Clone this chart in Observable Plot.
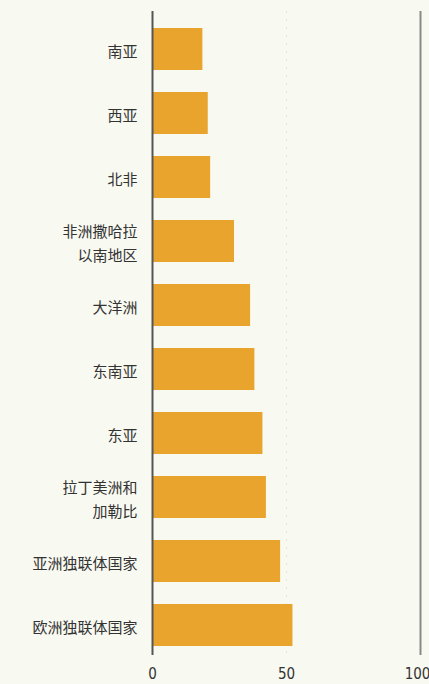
<!DOCTYPE html>
<html>
<head>
<meta charset="utf-8">
<script src="https://cdn.jsdelivr.net/npm/d3@7"></script>
<script src="https://cdn.jsdelivr.net/npm/@observablehq/plot@0.6"></script>
<style>
  html, body { margin: 0; padding: 0; background: #f8f9f1; }
  #chart { width: 429px; height: 684px; }
</style>
</head>
<body>
<div id="chart"></div>
<script>
const regions = ["南亚", "西亚", "北非", "非洲撒哈拉\n以南地区", "大洋洲", "东南亚", "东亚", "拉丁美洲和\n加勒比", "亚洲独联体国家", "欧洲独联体国家"];
const values = [18.8, 20.8, 21.7, 30.6, 36.6, 38.2, 41.2, 42.5, 47.8, 52.4];
const xTicks = [0, 50, 100];

const data = regions.map((r, i) => ({region: r, value: values[i]}));
const numFont = "'Liberation Sans Narrow', 'DejaVu Sans Condensed', 'Roboto', sans-serif";

const chart = Plot.plot({
  width: 429,
  height: 684,
  marginLeft: 152,
  marginRight: 9,
  marginTop: 11,
  marginBottom: 29,
  style: {background: "#f8f9f1", fontFamily: "'Noto Sans CJK SC', sans-serif", color: "#333"},
  x: {domain: [0, 100], ticks: xTicks},
  y: {domain: regions, range: [25.7, 649], paddingInner: 0.34, paddingOuter: 0},
  marks: [
    Plot.ruleX([50], {stroke: "#e4e6dc", strokeWidth: 1, strokeDasharray: "2,6"}),
    Plot.barX(data, {x: "value", y: "region", fill: "#e8a42c"}),
    Plot.ruleX([0], {stroke: "#555", strokeWidth: 2}),
    Plot.ruleX([100], {stroke: "#8a8a8a", strokeWidth: 2}),
    Plot.axisY({tickSize: 0, tickPadding: 15, fontSize: 15, lineHeight: 1.55, label: null, fill: "#333"}),
    Plot.axisX({ticks: xTicks.slice(0, 2), tickSize: 0, tickPadding: 13, fontSize: 15, label: null, fill: "#333", fontFamily: numFont}),
    Plot.axisX({ticks: xTicks.slice(2), tickSize: 0, tickPadding: 13, fontSize: 15, label: null, fill: "#333", fontFamily: numFont, dx: -3})
  ]
});
document.getElementById("chart").appendChild(chart);
</script>
</body>
</html>
